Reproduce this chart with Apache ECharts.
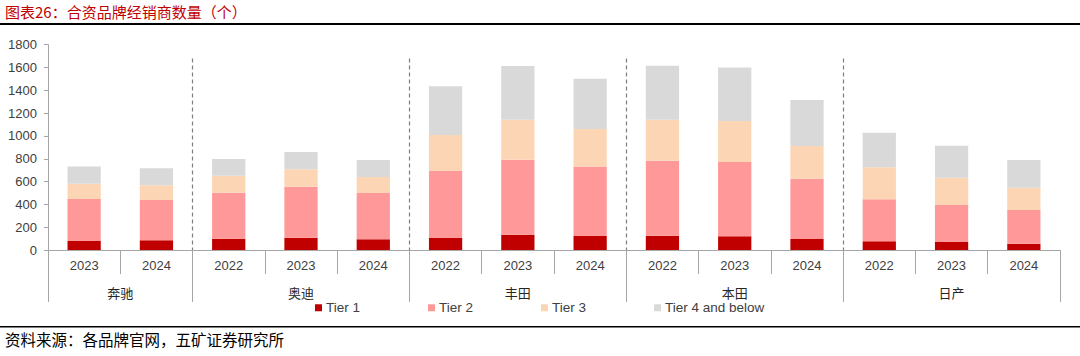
<!DOCTYPE html>
<html>
<head>
<meta charset="utf-8">
<script src="https://cdn.jsdelivr.net/npm/echarts@6/dist/echarts.min.js"></script>
<style>
html,body{margin:0;padding:0;background:#fff;}
#chart{width:1080px;height:356px;}
</style>
</head>
<body>
<div id="chart"></div>
<script>
// ---- data ----
const titleText = '图表26：合资品牌经销商数量（个）';
const sourceText = '资料来源：各品牌官网，五矿证券研究所';
const years = ['2023','2024','2022','2023','2024','2022','2023','2024','2022','2023','2024','2022','2023','2024'];
const brands = ['奔驰','奥迪','丰田','本田','日产'];
const brandSizes = [2,3,3,3,3];
const seriesNames = ['Tier 1','Tier 2','Tier 3','Tier 4 and below'];
const tier1 = [79,85,99,108,94,105,134,123,126,120,96,76,70,55];
const tier2 = [368,353,403,447,406,587,657,610,657,651,529,368,324,296];
const tier3 = [134,129,149,152,140,316,351,327,359,360,286,281,240,195];
const tier4 = [152,149,146,152,149,427,471,441,473,470,404,303,280,243];
const yMin = 0, yMax = 1800, yStep = 200;
const dashTop = 1680;

// ---- build ----
const colors = ['#c00000','#ff9999','#fcd5b4','#d9d9d9'];
const font = '"Liberation Sans", Arial, "Noto Sans CJK SC", sans-serif';
const cjk = '"Noto Sans CJK SC", "Liberation Sans", sans-serif';

const nCat = years.length;
const brandPts = new Array(2 * nCat + 1).fill('');
const boundaryIdx = [];
const labelIdx = [];
let s = 0;
brands.forEach((b, i) => {
  boundaryIdx.push(2 * s);
  const li = 2 * s + brandSizes[i];
  brandPts[li] = b;
  labelIdx.push(li);
  s += brandSizes[i];
});
boundaryIdx.push(2 * s);
const innerBoundaries = boundaryIdx.slice(1, -1);

const tiers = [tier1, tier2, tier3, tier4];
const series = tiers.map((d, i) => ({
  name: seriesNames[i],
  type: 'bar',
  stack: 'total',
  barWidth: '46%',
  itemStyle: { color: colors[i] },
  data: d,
  silent: true
}));
series.push({
  type: 'line',
  xAxisIndex: 1,
  data: [],
  silent: true,
  markLine: {
    silent: true,
    symbol: ['none', 'none'],
    label: { show: false },
    lineStyle: { color: '#7f7f7f', type: [4, 3], width: 1.2 },
    data: innerBoundaries.map(b => [{ xAxis: b, yAxis: dashTop }, { xAxis: b, yAxis: 0 }])
  }
});

const chart = echarts.init(document.getElementById('chart'), null, { renderer: 'svg' });
chart.setOption({
  backgroundColor: '#fff',
  animation: false,
  color: colors,
  grid: { left: 48, width: 1012, top: 44.7, bottom: 106, containLabel: false },
  legend: {
    data: seriesNames,
    left: 315,
    top: 301,
    padding: 0,
    itemWidth: 7,
    itemHeight: 7,
    itemGap: 68,
    icon: 'rect',
    textStyle: { fontFamily: font, fontSize: 13.5, color: '#404040', padding: [0, 0, 0, -1] }
  },
  xAxis: [
    {
      type: 'category',
      data: years,
      position: 'bottom',
      axisLine: { show: true, lineStyle: { color: '#a6a6a6', width: 1 } },
      axisTick: { show: true, interval: 0, length: 24, lineStyle: { color: '#a6a6a6' } },
      axisLabel: { interval: 0, margin: 9, fontFamily: font, fontSize: 13, color: '#404040' },
      splitLine: { show: false }
    },
    {
      type: 'category',
      data: brandPts,
      boundaryGap: false,
      position: 'bottom',
      axisLine: { show: false },
      axisTick: {
        show: true,
        length: 52,
        interval: (idx) => boundaryIdx.indexOf(idx) >= 0,
        lineStyle: { color: '#a6a6a6' }
      },
      axisLabel: {
        interval: (idx) => labelIdx.indexOf(idx) >= 0,
        margin: 36,
        fontFamily: cjk,
        fontSize: 13,
        color: '#262626'
      },
      splitLine: { show: false }
    }
  ],
  yAxis: {
    type: 'value',
    min: yMin,
    max: yMax,
    interval: yStep,
    axisLine: { show: true, lineStyle: { color: '#a6a6a6' } },
    axisTick: { show: true, length: 4, lineStyle: { color: '#a6a6a6' } },
    axisLabel: { margin: 11, fontFamily: font, fontSize: 13, color: '#404040', formatter: (v) => String(v) },
    splitLine: { show: false }
  },
  graphic: [
    { type: 'text', left: 5, top: 4, style: { text: titleText, fill: '#c00000', font: '15px ' + cjk } },
    { type: 'rect', left: 0, top: 23, shape: { width: 1080, height: 2 }, style: { fill: '#000' } },
    { type: 'rect', left: 0, top: 326, shape: { width: 1080, height: 1.5 }, style: { fill: '#000' } },
    { type: 'text', left: 5, top: 331, style: { text: sourceText, fill: '#000', font: '15.5px ' + cjk } }
  ],
  series: series
});
</script>
</body>
</html>
